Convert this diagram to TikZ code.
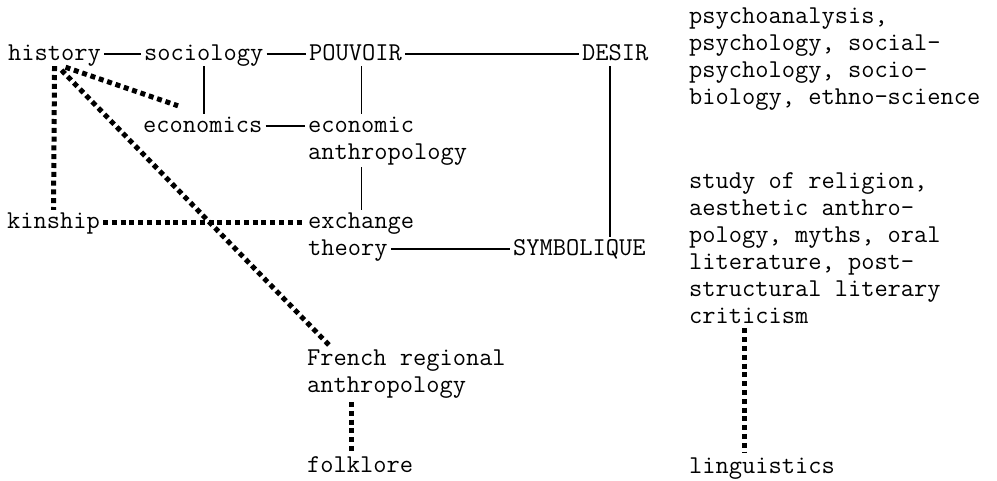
\documentclass[tikz,border=0pt]{standalone}
\usepackage{fontspec}
\usetikzlibrary{calc}

\begin{document}
\begin{tikzpicture}[x=1pt,y=-1pt,
  every node/.style={font=\ttfamily\fontsize{25.7}{27}\selectfont},
  word/.style={anchor=base west,inner xsep=3pt,inner ysep=2pt,text height=16pt,text depth=4pt},
  block/.style={anchor=base west,inner xsep=3pt,inner ysep=2pt,align=left},
  link/.style={line width=1.8pt},
  dotlink/.style={line width=5pt,dash pattern=on 5pt off 3.8pt}]
\useasboundingbox (0,0) rectangle (997,480);
% left part
\node[word] (hist) at (5,60) {history};
\node[word] (soc) at (141,60) {sociology};
\node[word] (pouv) at (306,60) {POUVOIR};
\node[word] (desir) at (579,60) {DESIR};
\node[word] (econ) at (140,132) {economics};
\node[block] (ecoanth) at (305,159) {economic\\anthropology};
\node[word] (kin) at (4,228) {kinship};
\node[word] (exch) at (305,228) {exchange};
\node[word] (theory) at (305,255) {theory};
\node[word] (symb) at (510,255) {SYMBOLIQUE};
\node[block] (french) at (304,392) {French regional\\anthropology};
\node[word] (folk) at (304,472) {folklore};
% right column
\node[block] (psy) at (686,104) {psychoanalysis,\\psychology, social-\\psychology, socio-\\biology, ethno-science};
\node[block] (rel) at (686,323) {study of religion,\\aesthetic anthro-\\pology, myths, oral\\literature, post-\\structural literary\\criticism};
\node[word] (ling) at (686,473) {linguistics};
% solid links
\draw[link] (hist) -- (soc);
\draw[link] (soc) -- (pouv);
\draw[link] (pouv) -- (desir);
\draw[link] (soc.south) -- (soc.south |- econ.north);
\draw[link] (econ.east) -- (econ.east -| ecoanth.west);
\draw[link] ([xshift=6pt]pouv.south) -- ([xshift=6pt]pouv.south |- econ.north);
\draw[link] ([xshift=6pt]pouv.south |- ecoanth.south) -- ([xshift=6pt]pouv.south |- exch.north);
\draw[link] ([xshift=-5pt]desir.south) -- ([xshift=-5pt]desir.south |- symb.north);
\draw[link] (theory) -- (symb);
% dotted links
\draw[dotlink] (kin) -- (exch);
\draw[dotlink] (hist.south) -- (kin.north);
\draw[dotlink] ($(hist.south)+(11,1)$) -- ($(econ.north west)+(38,-8)$);
\draw[dotlink] ($(hist.south)+(7,4)$) -- ($(french.north west)+(27,0)$);
\draw[dotlink] ($(french.south west)+(47,2)$) -- ($(folk.north west)+(47,-2)$);
\draw[dotlink] ($(rel.south west)+(58,3)$) -- ($(ling.north west)+(58,-2)$);
\end{tikzpicture}
\end{document}
